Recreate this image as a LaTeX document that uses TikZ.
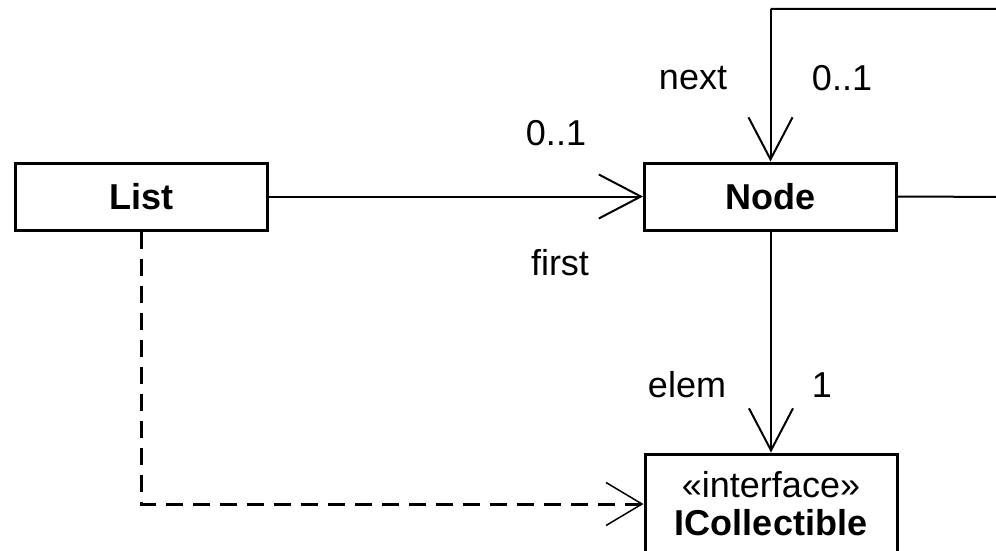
\documentclass[tikz,border=0pt]{standalone}
\usepackage{fontspec}
\setmainfont{Liberation Sans}
\usetikzlibrary{arrows.meta}
\begin{document}
\begin{tikzpicture}[x=1pt,y=-1pt,
  every node/.style={font=\fontsize{36}{38}\selectfont},
  classbox/.style={draw,line width=3pt,minimum width=252pt,minimum height=67pt,inner sep=0pt,font=\fontsize{36}{38}\selectfont\bfseries},
  ifbox/.style={draw,line width=3pt,minimum width=252pt,minimum height=100pt,inner sep=0pt,align=center},
  assoc/.style={line width=2pt,-{Straight Barb[length=42pt,width=44pt,line width=2pt]}},
  realize/.style={line width=3pt,dash pattern=on 17pt off 10pt,-{Straight Barb[length=36pt,width=43pt,line width=1.5pt,sep=0pt]}},
  lbl/.style={inner sep=0pt}]
\useasboundingbox (0,0) rectangle (996,551);
\clip (0,0) rectangle (996,551);
\node[classbox] (list) at (141.5,196.5) {List};
\node[classbox] (node) at (770.5,196.5) {Node};
\node[ifbox] (ic) at (771,504) {«interface»\\\textbf{ICollectible}};
\coordinate (r1) at (1010,197);
\coordinate (r2) at (1010,9);
\coordinate (r3) at (770.5,9);
\draw[assoc] (list.east) -- (node.west);
\draw[line width=2pt] (node.east) -- (r1) -- (r2) -- (r3);
\draw[assoc] (r3) -- (node.north);
\draw[assoc] (node.south -| ic.north) -- (ic.north);
\draw[realize] (list.south) |- (ic.west);
\node[lbl] (m1) at (556,133) {0..1};
\node[lbl] (r1l) at (560,263) {first};
\node[lbl] (nx) at (693,78) {next};
\node[lbl] (m2) at (842,78) {0..1};
\node[lbl] (el) at (687,385) {elem};
\node[lbl] (m3) at (822,385) {1};
\end{tikzpicture}
\end{document}
